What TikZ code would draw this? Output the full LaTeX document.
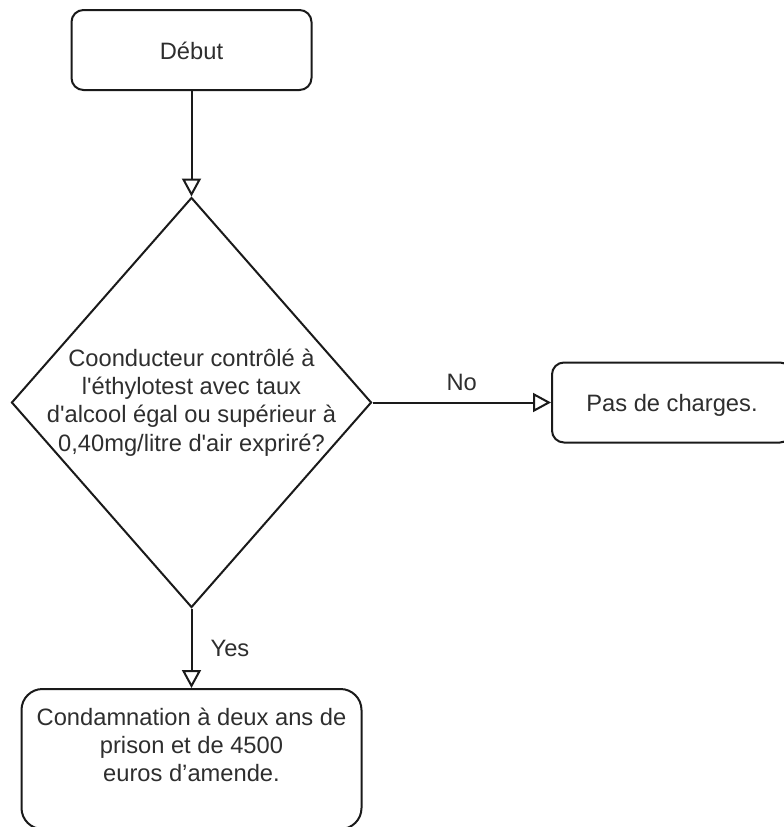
\documentclass[tikz,border=0pt]{standalone}
\usepackage{fontspec}
\setmainfont{Liberation Sans}
\usetikzlibrary{arrows.meta,shapes.geometric}
\definecolor{txt}{HTML}{2E2E2E}
\definecolor{ln}{HTML}{1A1A1A}
\newcommand{\sq}{\textquotesingle}
\begin{document}
\begin{tikzpicture}[x=1pt,y=-1pt,
  every node/.style={font=\fontsize{23.7pt}{28.3pt}\selectfont, text=txt},
  shapebox/.style={draw=ln, line width=2pt, rectangle, inner sep=0pt},
  onelinebox/.style={shapebox, text height=22.5pt, text depth=3.6pt},
  flow/.style={draw=ln, line width=2pt, -{Triangle[open,length=18pt,width=19pt]}},
  lbl/.style={inner sep=0pt}
]
\useasboundingbox (0,0) rectangle (784,827);

\node[onelinebox, rounded corners=12pt, minimum width=240pt, minimum height=80pt] (start) at (191.5,50) {Début};

\node[draw=ln, line width=2pt, diamond, inner sep=0pt, minimum width=360pt, minimum height=410pt] (dec) at (191.5,402.5) {};
\node[align=center, inner sep=0pt] (dectext) at (191.5,402.5) {Coonducteur contrôlé à\\l\sq éthylotest avec taux\\d\sq alcool égal ou supérieur à\\0,40mg/litre d\sq air expriré?};

\node[onelinebox, rounded corners=12pt, minimum width=240pt, minimum height=80pt] (none) at (672,402.5) {Pas de charges.};

\node[shapebox, rounded corners=21pt, minimum width=340pt, minimum height=140pt] (cond) at (191.5,759) {};
\node[align=center, inner sep=0pt] (condtext) at (191.5,745) {Condamnation à deux ans de\\prison et de 4500\\euros d’amende.};

\draw[flow] (start.south) -- (dec.north);
\draw[flow] (dec.east) -- node[lbl, pos=0.5, yshift=20pt] (no) {No} (none.west);
\draw[flow] (dec.south) -- node[lbl, pos=0.5, xshift=38.5pt] (yes) {Yes} (cond.north);
\end{tikzpicture}
\end{document}
